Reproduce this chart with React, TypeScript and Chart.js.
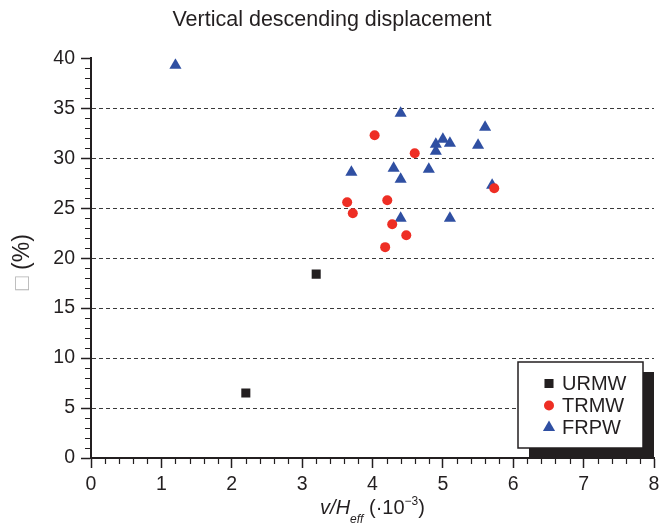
import React, { useEffect, useRef } from 'react';
import { Chart, registerables } from 'chart.js';

Chart.register(...registerables);

// ---------- data ----------
const CHART_TITLE = 'Vertical descending displacement';
const SERIES_NAMES = ['URMW', 'TRMW', 'FRPW'];

const URMW_X = [2.2, 3.2];
const URMW_Y = [6.5, 18.4];

const TRMW_X = [4.03, 4.6, 3.64, 4.21, 3.72, 4.28, 4.48, 4.18, 5.73];
const TRMW_Y = [32.3, 30.5, 25.6, 25.8, 24.5, 23.4, 22.3, 21.1, 27.0];

const FRPW_X = [1.2, 4.4, 5.6, 4.9, 5.0, 5.1, 5.5, 4.9, 3.7, 4.3, 4.8, 4.4, 5.7, 4.4, 5.1];
const FRPW_Y = [39.3, 34.5, 33.1, 31.4, 31.9, 31.5, 31.3, 30.7, 28.6, 29.0, 28.9, 27.9, 27.3, 24.0, 24.0];

const X_TICKS = [0, 1, 2, 3, 4, 5, 6, 7, 8];
const Y_TICKS = [0, 5, 10, 15, 20, 25, 30, 35, 40];
const X_MINOR_PER_MAJOR = 5;
const Y_MINOR_PER_MAJOR = 5;

const Y_TITLE_BOX = '\u25A1';
const Y_TITLE_REST = ' (%)';
const X_TITLE_PARTS = [
  { text: 'v/H', italic: true, size: 20, dy: 0 },
  { text: 'eff', italic: true, size: 12, dy: 9 },
  { text: ' (\u00B710', italic: false, size: 20, dy: 0 },
  { text: '\u22123', italic: false, size: 12, dy: -9 },
  { text: ')', italic: false, size: 20, dy: 0 },
];

// ---------- styles ----------
const FONT = '"Liberation Sans", Arial, Helvetica, sans-serif';
const INK = '#231f20';
const COLORS = ['#231f20', '#ee2e24', '#2f4fa2'];
const POINT_STYLES = ['rect', 'circle', 'triangle'];
const POINT_RADII = [6.4, 5, 7];

const toPoints = (xs: number[], ys: number[]) => xs.map((x, i) => ({ x, y: ys[i] }));

function drawMarker(ctx: CanvasRenderingContext2D, style: string, x: number, y: number, r: number, color: string) {
  ctx.fillStyle = color;
  ctx.beginPath();
  if (style === 'rect') {
    const s = r * Math.SQRT1_2;
    ctx.rect(x - s, y - s, 2 * s, 2 * s);
  } else if (style === 'circle') {
    ctx.arc(x, y, r, 0, Math.PI * 2);
  } else {
    ctx.moveTo(x, y - r);
    ctx.lineTo(x + r * Math.sin((2 * Math.PI) / 3), y + r / 2);
    ctx.lineTo(x - r * Math.sin((2 * Math.PI) / 3), y + r / 2);
    ctx.closePath();
  }
  ctx.fill();
}

const decorPlugin = {
  id: 'decor',
  afterDraw(chart: any) {
    const { ctx, chartArea: ca, scales } = chart;
    const xs = scales.x;
    const ys = scales.y;
    ctx.save();

    // minor ticks
    ctx.strokeStyle = INK;
    ctx.lineWidth = 1.2;
    ctx.beginPath();
    for (let i = 0; i < X_TICKS.length - 1; i++) {
      const a = X_TICKS[i];
      const b = X_TICKS[i + 1];
      for (let k = 1; k < X_MINOR_PER_MAJOR; k++) {
        const px = Math.round(xs.getPixelForValue(a + ((b - a) * k) / X_MINOR_PER_MAJOR)) + 0.5;
        ctx.moveTo(px, ca.bottom);
        ctx.lineTo(px, ca.bottom + 6);
      }
    }
    for (let i = 0; i < Y_TICKS.length - 1; i++) {
      const a = Y_TICKS[i];
      const b = Y_TICKS[i + 1];
      for (let k = 1; k < Y_MINOR_PER_MAJOR; k++) {
        const py = Math.round(ys.getPixelForValue(a + ((b - a) * k) / Y_MINOR_PER_MAJOR)) + 0.5;
        ctx.moveTo(ca.left - 6, py);
        ctx.lineTo(ca.left, py);
      }
    }
    ctx.stroke();

    // legend with drop shadow
    const bw = 125;
    const bh = 86;
    const bx = ca.right - bw - 11;
    const by = ca.bottom - bh - 10;
    ctx.fillStyle = INK;
    ctx.fillRect(bx + 11, by + 10, bw, bh);
    ctx.fillStyle = '#ffffff';
    ctx.fillRect(bx, by, bw, bh);
    ctx.strokeStyle = INK;
    ctx.lineWidth = 1.5;
    ctx.strokeRect(bx, by, bw, bh);
    const dsets = chart.data.datasets;
    ctx.font = `20px ${FONT}`;
    ctx.textBaseline = 'middle';
    ctx.textAlign = 'left';
    dsets.forEach((d: any, i: number) => {
      const my = by + 21.5 + i * 22;
      drawMarker(ctx, d.pointStyle, bx + 31, my, d.pointRadius, d.backgroundColor);
      ctx.fillStyle = INK;
      ctx.fillText(d.label, bx + 44, my + 1);
    });

    // x axis title with italic / subscript / superscript
    let total = 0;
    const widths = X_TITLE_PARTS.map((p) => {
      ctx.font = `${p.italic ? 'italic ' : ''}${p.size}px ${FONT}`;
      const w = ctx.measureText(p.text).width;
      total += w;
      return w;
    });
    let cx = (ca.left + ca.right) / 2 - total / 2;
    const base = 514;
    ctx.textBaseline = 'alphabetic';
    ctx.fillStyle = INK;
    X_TITLE_PARTS.forEach((p, i) => {
      ctx.font = `${p.italic ? 'italic ' : ''}${p.size}px ${FONT}`;
      ctx.fillText(p.text, cx, base + p.dy);
      cx += widths[i];
    });

    // y axis title (rotated)
    ctx.translate(29, (ca.top + ca.bottom) / 2 + 4);
    ctx.rotate(-Math.PI / 2);
    ctx.font = `23px ${FONT}`;
    const w1 = ctx.measureText(Y_TITLE_BOX).width;
    const w2 = ctx.measureText(Y_TITLE_REST).width;
    let sx = -(w1 + w2) / 2;
    ctx.fillStyle = '#b5b5b5';
    ctx.fillText(Y_TITLE_BOX, sx, 0);
    sx += w1;
    ctx.fillStyle = INK;
    ctx.fillText(Y_TITLE_REST, sx, 0);

    ctx.restore();
  },
};

export default function App() {
  const ref = useRef<HTMLCanvasElement>(null);

  useEffect(() => {
    const series = [
      toPoints(URMW_X, URMW_Y),
      toPoints(TRMW_X, TRMW_Y),
      toPoints(FRPW_X, FRPW_Y),
    ];
    const chart = new Chart(ref.current as HTMLCanvasElement, {
      type: 'scatter',
      data: {
        datasets: SERIES_NAMES.map((name, i) => ({
          label: name,
          data: series[i],
          pointStyle: POINT_STYLES[i],
          pointRadius: POINT_RADII[i],
          pointHoverRadius: POINT_RADII[i],
          backgroundColor: COLORS[i],
          borderColor: COLORS[i],
          pointBorderWidth: 0,
          borderWidth: 0,
        })),
      } as any,
      options: {
        responsive: false,
        animation: false,
        devicePixelRatio: 1,
        layout: { padding: { left: 10, right: 14, top: 0, bottom: 0 } },
        plugins: {
          legend: { display: false },
          tooltip: { enabled: false },
          title: {
            display: true,
            text: CHART_TITLE,
            color: INK,
            font: { family: FONT, size: 21.5, weight: 'normal', lineHeight: 1.2 },
            padding: { top: 7, bottom: 25.5 },
          },
        },
        scales: {
          x: {
            type: 'linear',
            min: X_TICKS[0],
            max: X_TICKS[X_TICKS.length - 1],
            afterFit: (s: any) => {
              s.height = 72;
            },
            ticks: {
              stepSize: X_TICKS[1] - X_TICKS[0],
              color: INK,
              font: { family: FONT, size: 19.5 },
              padding: 5,
              maxRotation: 0,
            },
            grid: {
              display: true,
              drawOnChartArea: false,
              drawTicks: true,
              tickLength: 10,
              tickColor: INK,
              tickWidth: 1.5,
            },
            border: { display: true, color: INK, width: 2 },
          },
          y: {
            type: 'linear',
            min: Y_TICKS[0],
            max: Y_TICKS[Y_TICKS.length - 1],
            afterFit: (s: any) => {
              s.width = 81;
            },
            ticks: {
              stepSize: Y_TICKS[1] - Y_TICKS[0],
              color: INK,
              font: { family: FONT, size: 19.5 },
              padding: 6,
            },
            grid: {
              display: true,
              drawOnChartArea: true,
              drawTicks: true,
              tickLength: 10,
              color: (c: any) =>
                c.tick && (c.tick.value === Y_TICKS[0] || c.tick.value === Y_TICKS[Y_TICKS.length - 1])
                  ? 'rgba(0,0,0,0)'
                  : '#3a3a3a',
              lineWidth: 1,
              tickColor: INK,
              tickWidth: 1.5,
            },
            border: { display: true, color: INK, width: 2, dash: [4, 3] },
          },
        },
      } as any,
      plugins: [decorPlugin],
    });
    return () => chart.destroy();
  }, []);

  return (
    <div style={{ position: 'fixed', left: 0, top: 0, width: 668, height: 530, background: '#ffffff' }}>
      <canvas ref={ref} width={668} height={530} style={{ display: 'block', width: 668, height: 530 }} />
    </div>
  );
}
